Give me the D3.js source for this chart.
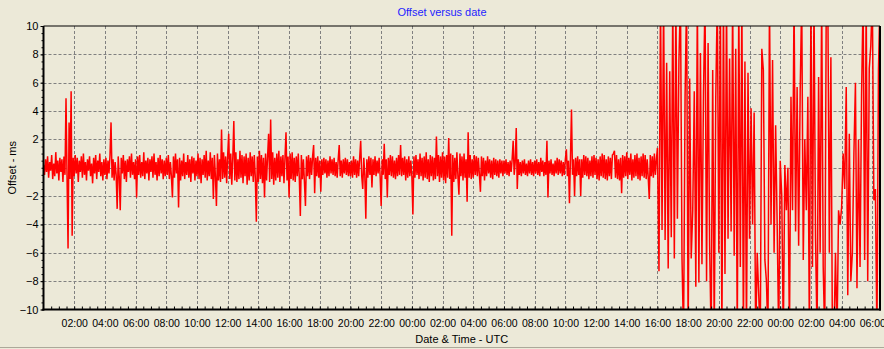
<!DOCTYPE html>
<html>
<head>
<meta charset="utf-8">
<script src="https://cdnjs.cloudflare.com/ajax/libs/d3/7.8.5/d3.min.js"></script>
<style>
body { margin: 0; background: #ECE9D8; }
svg { display: block; }
text { font-family: "Liberation Sans", Arial, sans-serif; }
</style>
</head>
<body>
<div id="chart"></div>
<script>
// calm stretch: 00:00 day 1 to 16:00 day 2, one reading every 4 minutes (ms)
var calmOffsets = [
  0.2,-0.5,0.6,-0.3,0.8,-0.7,0.4,-0.2,0.9,-0.8,0.3,-0.6,1.1,-0.4,0.5,-0.9,0.7,-0.3,0.6,-1.0,0.8,-0.5,4.9,-0.6,-5.7,3.2,-0.8,5.4,-4.8,0.7,
  -0.6,0.9,-0.4,0.7,-1.0,0.5,-0.3,0.8,-0.7,1.0,-0.5,0.4,-0.9,0.6,-0.2,0.8,-0.6,0.3,-1.1,0.7,-0.4,0.9,-0.8,0.5,-0.3,1.0,-0.6,0.4,-0.9,0.6,
  -0.5,0.7,-0.8,0.5,-0.4,0.9,3.2,-0.7,0.6,-0.9,0.4,-0.5,-2.9,0.8,-0.6,-3.0,0.7,-0.4,0.9,-0.8,0.5,-1.0,0.6,-0.3,0.8,-0.7,1.0,-0.5,0.4,-0.8,
  0.6,-2.1,0.8,-0.5,0.9,-0.7,0.4,-0.6,1.1,-0.8,0.5,-0.4,0.7,-0.9,0.6,-0.3,0.8,-0.7,1.0,-0.5,0.4,-0.9,0.7,-0.6,0.9,-0.4,0.6,-0.8,0.5,-0.6,
  0.7,-0.5,0.9,-0.8,0.4,-0.6,-2.1,0.8,-0.7,1.0,-0.4,0.6,-2.8,0.7,-0.9,0.5,-0.6,1.0,-0.8,0.4,-0.5,0.9,-0.7,0.6,-1.0,0.8,-0.4,0.7,-0.9,0.5,
  -0.6,1.0,-0.8,0.7,-1.1,0.6,-0.5,0.9,-0.7,1.2,-0.9,0.5,-0.6,1.1,-0.8,0.7,-2.2,0.9,-0.6,-2.7,1.0,-0.9,0.6,-1.0,2.7,-0.8,1.1,-0.7,0.8,-1.1,
  0.9,2.4,-0.8,1.0,-1.2,0.7,3.3,-0.9,1.1,-1.0,0.6,-0.8,1.2,-0.7,0.9,-1.1,0.8,-0.6,1.0,-1.2,0.7,-0.9,1.1,-0.6,0.8,-1.0,0.9,-0.7,-3.8,0.8,
  -1.0,1.2,-0.8,0.9,-1.1,0.7,-2.1,1.0,-0.9,0.8,2.4,-1.0,3.4,-0.8,1.1,-1.2,0.7,-0.9,1.0,-0.7,1.2,-1.0,0.8,-0.6,0.9,-1.1,0.7,2.5,-0.9,0.8,
  -2.1,1.0,-0.8,1.1,-0.9,0.7,-1.0,0.8,-0.6,1.0,-0.7,-3.4,0.9,-0.8,0.6,-1.0,-2.7,0.8,-0.6,0.9,-0.8,0.7,-0.5,0.8,1.6,-1.8,0.7,-0.6,0.8,-0.7,
  0.5,-1.7,0.6,-0.5,0.7,-0.4,0.6,-0.7,0.5,-0.6,0.8,-0.4,0.6,-0.5,0.7,-0.6,0.4,-0.7,0.6,1.6,-0.6,0.5,-0.7,0.6,-0.4,0.7,-0.5,0.6,-0.6,0.4,
  -0.6,0.5,-0.7,0.8,-0.5,0.6,-0.7,0.5,-0.6,0.7,1.9,-0.6,-1.5,0.7,-0.5,-3.6,0.6,-0.7,0.8,-0.5,0.7,-1.4,0.6,-0.5,0.8,-0.6,0.5,-0.4,0.7,-0.6,
  -2.7,0.6,-0.5,1.7,-0.8,0.6,-2.1,0.7,-0.5,0.9,-0.6,0.8,-0.7,0.5,-0.8,0.7,-0.6,0.9,-0.5,1.6,-0.6,0.7,-0.5,0.8,-0.9,0.6,-0.7,0.8,-0.6,0.5,
  -0.6,-3.3,0.8,-0.7,0.9,-0.5,0.6,-0.8,1.0,-0.6,0.7,-0.9,0.8,-0.7,1.1,-0.8,0.6,-1.0,0.9,-0.6,0.8,-0.9,0.7,-0.8,2.2,-0.6,0.9,-1.0,0.8,-0.7,
  1.1,-0.9,0.8,-1.1,0.9,-0.7,2.1,-0.8,1.0,-4.8,0.9,-1.0,0.7,-0.8,1.1,-0.6,-1.9,1.0,-0.6,0.8,-0.9,1.0,-0.7,0.6,-2.4,2.5,-0.7,0.9,-0.8,0.6,
  -0.7,0.9,-0.5,0.8,-0.6,0.7,-0.5,-1.7,0.8,-0.6,0.7,-0.9,0.5,-0.6,0.8,-0.4,0.6,-0.7,0.5,-0.8,0.7,-0.5,0.6,-0.6,0.5,-0.7,0.6,-0.4,0.5,-0.6,
  0.5,-0.4,0.6,-0.5,0.4,-0.6,0.5,-0.3,0.6,1.9,-0.5,0.4,2.8,-1.5,0.6,-0.5,0.4,-0.6,0.5,-0.4,0.6,-0.5,0.3,-0.6,0.5,-0.4,0.6,-0.5,0.4,-0.6,
  0.5,-0.4,0.6,-0.5,0.4,-0.6,0.7,-0.3,0.5,-0.6,0.4,-0.5,1.9,-2.1,0.5,-0.4,0.6,-0.5,0.3,-0.6,0.5,-0.4,0.7,-0.5,0.6,-0.4,0.5,-0.6,0.4,-0.5,
  0.6,1.3,-0.6,0.5,-2.5,0.7,4.1,-0.5,0.6,-2.0,0.7,-0.6,0.8,-0.5,0.6,-2.0,0.6,-0.7,0.9,-0.5,0.8,-0.6,0.7,-0.8,0.5,-0.6,0.8,-0.7,0.9,-0.5,
  0.7,-0.8,0.6,-0.9,0.8,-0.6,1.0,-0.7,0.9,-0.8,0.6,-0.9,0.8,-0.6,0.7,-0.8,0.9,1.0,1.2,-0.7,0.9,-0.8,0.6,-0.9,0.7,-1.8,0.9,-0.7,0.8,-0.6,
  1.1,-0.8,0.7,-0.5,1.0,-0.9,0.6,-0.7,0.9,-0.6,1.0,-0.8,0.7,-0.9,0.8,-0.6,1.0,-0.7,0.9,-0.8,0.6,-0.7,-2.2,0.9,-0.6,0.8,-0.7,1.0,-0.5,0.6
];
// unstable stretch: from 16:00 day 2, one reading every 6 minutes (ms, beyond +-10 is off scale)
var stormOffsets = [
  1.4,-7.3,12,-4.4,12,-5.1,7.4,-7.1,6.8,-4.9,12,-6.4,12,-3.6,7.6,12,-6.4,-12,5.0,12,
  -12,6.3,-6.4,-3.0,5.4,-8.4,12,-8.1,8.1,-6.8,5.3,12,-8.0,8.8,-5.5,-12,6.9,-12,5.0,12,
  -6.0,12,-12,12,-7.5,12,-5.0,7.7,-4.5,12,-6.2,8.4,-12,12,-7.0,12,-12,7.5,-12,6.7,
  -5.0,4.2,-4.0,3.9,-12,-6.0,-9.0,-12,8.4,6.9,-6.5,-8.0,-12,12,-4.0,7.6,-6.0,3.0,-4.0,-12,
  0.5,-2.0,-12,0.2,-3.0,0.0,-12,5.0,-3.0,12,-4.5,5.7,-5.5,5.4,12,-6.5,2.0,-3.0,5.0,-12,
  12,-7.0,12,-5.0,-12,6.4,-6.0,12,-7.0,-12,12,12,-6.0,7.8,-12,-12,-6.0,-12,-3.0,-4.0,
  -2.8,1.0,-1.5,5.7,-9.0,2.4,-8.0,-6.0,1.0,6.0,-8.5,2.0,-7.0,5.2,12,-6.5,12,-8.0,7.0,8.6,
  12,-2.3,-1.5,-12,6.9,12
];
var calmStart = new Date(Date.UTC(2012, 0, 1, 0, 0));
var calmStepMin = 4;
var stormStart = new Date(Date.UTC(2012, 0, 2, 16, 0));
var stormStepMin = 6;
var endDate = new Date(Date.UTC(2012, 0, 3, 6, 30));
var yTicks = [10, 8, 6, 4, 2, -2, -4, -6, -8, -10];
var yGrid = [-8, -6, -4, -2, 0, 2, 4, 6, 8];

var points = [];
calmOffsets.forEach(function(v, i) {
  points.push({ t: new Date(calmStart.getTime() + i * calmStepMin * 60000), v: v });
});
stormOffsets.forEach(function(v, i) {
  points.push({ t: new Date(stormStart.getTime() + i * stormStepMin * 60000), v: v });
});

var width = 884, height = 349;
var plotL = 43.5, plotR = 880, plotT = 26, plotB = 309.5;

var svg = d3.select("#chart").append("svg")
  .attr("width", width)
  .attr("height", height);

svg.append("rect").attr("width", width).attr("height", height).attr("fill", "#ECE9D8");
svg.append("line").attr("x1", 0).attr("x2", width).attr("y1", 347.5).attr("y2", 347.5)
  .attr("stroke", "#ACA899");

var x = d3.scaleUtc().domain([calmStart, endDate]).range([plotL, plotR]);
var y = d3.scaleLinear().domain([-10, 10]).range([plotB, plotT]);

var majorTimes = d3.utcHour.every(2).range(new Date(calmStart.getTime() + 1), endDate);
var minorTimes = d3.utcMinute.every(30).range(new Date(calmStart.getTime() + 1), endDate);

// grid
svg.append("g").selectAll("line").data(majorTimes).enter().append("line")
  .attr("x1", function(d) { return Math.round(x(d)) + 0.5; })
  .attr("x2", function(d) { return Math.round(x(d)) + 0.5; })
  .attr("y1", plotT).attr("y2", plotB)
  .attr("stroke", "#808080").attr("stroke-dasharray", "3,2");
svg.append("g").selectAll("line").data(yGrid).enter().append("line")
  .attr("x1", plotL).attr("x2", plotR)
  .attr("y1", function(d) { return Math.round(y(d)) + 0.5; })
  .attr("y2", function(d) { return Math.round(y(d)) + 0.5; })
  .attr("stroke", "#808080").attr("stroke-dasharray", "3,2");

// data
svg.append("clipPath").attr("id", "plotClip").append("rect")
  .attr("x", plotL).attr("y", plotT).attr("width", plotR - plotL).attr("height", plotB - plotT);

var line = d3.line()
  .x(function(d) { return x(d.t); })
  .y(function(d) { return y(d.v); });

svg.append("path")
  .datum(points)
  .attr("clip-path", "url(#plotClip)")
  .attr("fill", "none")
  .attr("stroke", "#FF0000")
  .attr("stroke-width", 1.5)
  .attr("d", line);

// axes
var xAxis = svg.append("g").attr("transform", "translate(0," + plotB + ")")
  .call(d3.axisBottom(x).tickValues(majorTimes).tickFormat(d3.utcFormat("%H:%M")).tickSize(0).tickPadding(10));
xAxis.select(".domain").remove();
xAxis.selectAll("text").attr("font-size", "10.5px").attr("font-family", "Liberation Sans, Arial, sans-serif").attr("fill", "#000");

var xMinor = svg.append("g").attr("transform", "translate(0," + plotB + ")")
  .call(d3.axisBottom(x).tickValues(minorTimes).tickFormat("").tickSizeInner(-3).tickSizeOuter(0));
xMinor.select(".domain").remove();

var yAxis = svg.append("g").attr("transform", "translate(" + plotL + ",0)")
  .call(d3.axisLeft(y).tickValues(yTicks).tickSize(3).tickPadding(2));
yAxis.select(".domain").remove();
yAxis.selectAll("text").attr("font-size", "11px").attr("font-family", "Liberation Sans, Arial, sans-serif").attr("fill", "#000");

var yMinor = svg.append("g").attr("transform", "translate(" + plotL + ",0)")
  .call(d3.axisLeft(y).tickValues(d3.range(-10, 10.01, 0.5)).tickFormat("").tickSizeInner(2).tickSizeOuter(0));
yMinor.select(".domain").remove();

// frame
svg.append("line").attr("x1", plotL).attr("x2", plotR).attr("y1", plotT).attr("y2", plotT)
  .attr("stroke", "#000").attr("stroke-width", 1.2);
svg.append("line").attr("x1", plotL).attr("x2", plotL).attr("y1", plotT).attr("y2", plotB + 1)
  .attr("stroke", "#000").attr("stroke-width", 2);
svg.append("line").attr("x1", plotR).attr("x2", plotR).attr("y1", plotT).attr("y2", plotB + 1)
  .attr("stroke", "#000").attr("stroke-width", 2);
svg.append("line").attr("x1", plotL - 1).attr("x2", plotR + 1).attr("y1", plotB).attr("y2", plotB)
  .attr("stroke", "#000").attr("stroke-width", 2);

// titles
svg.append("text").attr("x", width / 2).attr("y", 16)
  .attr("text-anchor", "middle").attr("font-size", "11px").attr("fill", "#1E1EFF")
  .text("Offset versus date");
svg.append("text").attr("x", (plotL + plotR) / 2).attr("y", 343)
  .attr("text-anchor", "middle").attr("font-size", "11px").attr("fill", "#000")
  .text("Date & Time - UTC");
svg.append("text")
  .attr("transform", "translate(16," + ((plotT + plotB) / 2) + ") rotate(-90)")
  .attr("text-anchor", "middle").attr("font-size", "11px").attr("fill", "#000")
  .text("Offset - ms");
</script>
</body>
</html>
